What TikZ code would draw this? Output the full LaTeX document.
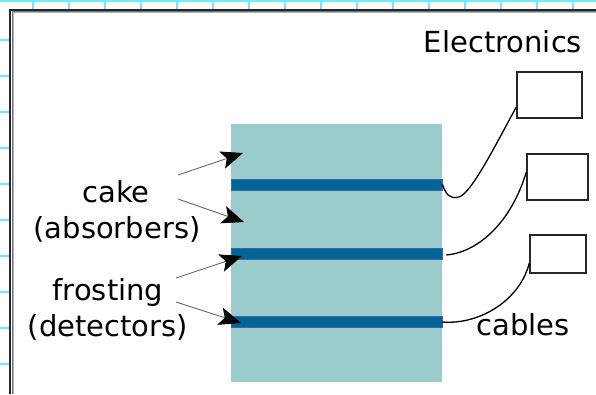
\documentclass[tikz,border=0pt]{standalone}
\usepackage{fontspec}
\setmainfont{DejaVu Sans}
\usetikzlibrary{arrows.meta}
\definecolor{gridcyan}{RGB}{110,238,248}
\definecolor{cakecol}{RGB}{155,204,204}
\definecolor{bandcol}{RGB}{0,100,152}
\definecolor{bandedge}{RGB}{60,100,170}
\begin{document}
\begin{tikzpicture}[x=1pt,y=-1pt,
  gridline/.style={draw=gridcyan,line width=1.1pt},
  stackbox/.style={fill=cakecol,draw=none,minimum width=211pt,minimum height=258pt,inner sep=0pt},
  bandbox/.style={fill=bandcol,draw=bandedge,line width=0.5pt,minimum width=211pt,minimum height=11pt,inner sep=0pt},
  label/.style={font=\fontsize{29}{34}\selectfont,anchor=base,inner sep=0pt},
  pointer/.style={draw=black!60,line width=0.9pt,-{Stealth[length=22pt,width=18pt,inset=5pt,color=black]}},
  elbox/.style={draw=black!85,line width=1.4pt,inner sep=0pt},
  cable/.style={draw=black,line width=1.3pt}]
\useasboundingbox (0,0) rectangle (596,394);
\fill[white] (0,0) rectangle (596,394);
% grid remnants
\draw[gridline] (0,1) -- (596,1);
\foreach \y in {40,76,...,364} \draw[gridline] (0,\y) -- (9,\y);
\foreach \x in {33,69,...,573} \draw[gridline] (\x,0) -- (\x,9);
% frame
\draw[black!30,line width=1pt] (13.5,394) -- (13.5,12.5) -- (596,12.5);
\draw[black!55,line width=1.2pt] (12.2,394) -- (12.2,11.2) -- (596,11.2);
\draw[black!85,line width=2pt] (10,394) -- (10,9.5) -- (596,9.5);
% cake stack
\node[stackbox] (stack) at (336.5,253) {};
\node[bandbox] (b1) at (336.5,184.5) {};
\node[bandbox] (b2) at (336.5,253.5) {};
\node[bandbox] (b3) at (336.5,322) {};
% labels
\node[label] (cake) at (116,202) {cake};
\node[label] (absorb) at (117,238) {(absorbers)};
\node[label] (frost) at (108,300) {frosting};
\node[label] (detect) at (108,336) {(detectors)};
\node[label] (elec) at (503,52) {Electronics};
\node[label] (cables) at (523,335) {cables};
% arrow tails and tips
\coordinate (t1) at (178,175);
\coordinate (t2) at (178,199);
\coordinate (t3) at (176,278);
\coordinate (t4) at (176,302);
\coordinate (h1) at (243,153);
\coordinate (h2) at (244,222);
\coordinate (h3) at (242,256);
\coordinate (h4) at (241,323);
\draw[pointer] (t1) -- (h1);
\draw[pointer] (t2) -- (h2);
\draw[pointer] (t3) -- (h3);
\draw[pointer] (t4) -- (h4);
% electronics boxes
\node[elbox,minimum width=65pt,minimum height=46pt] (e1) at (549.5,95) {};
\node[elbox,minimum width=61pt,minimum height=46pt] (e2) at (557.5,177) {};
\node[elbox,minimum width=56pt,minimum height=38pt] (e3) at (558,254) {};
% cables
\draw[cable] ([yshift=0.5pt]b1.east) .. controls (446,194) and (449,199.5) .. (459,197)
  .. controls (472,193) and (498,140) .. ([yshift=-12pt]e1.west);
\draw[cable] ([xshift=4pt,yshift=-1.5pt]b2.east) .. controls (480,252) and (512,220) .. ([yshift=5pt]e2.west);
\draw[cable] (b3.east) .. controls (480,325) and (520,300) .. ([yshift=-9pt]e3.west);
\end{tikzpicture}
\end{document}
